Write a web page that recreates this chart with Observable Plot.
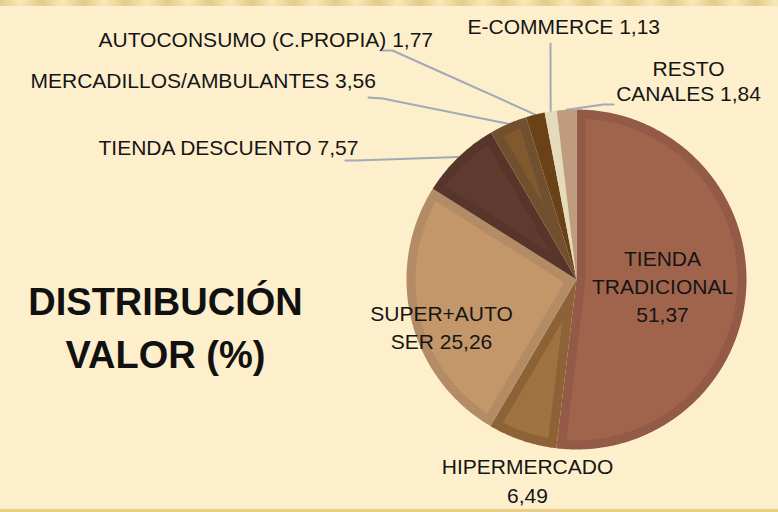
<!DOCTYPE html>
<html><head><meta charset="utf-8">
<script src="https://cdn.jsdelivr.net/npm/d3@7"></script>
<script src="https://cdn.jsdelivr.net/npm/@observablehq/plot@0.6"></script>
<style>
html,body{margin:0;padding:0;background:#FDEFCB;}
#wrap{position:relative;width:778px;height:512px;overflow:hidden;background:#FDEFCB;}
#top{position:absolute;left:0;top:0;width:778px;height:6px;background:repeating-linear-gradient(90deg,#E4CC88 0px,#F7E8B8 20px,#E4CC88 42px);}
#bot{position:absolute;left:0;bottom:0;width:778px;height:3px;background:#E9CE86;}
#chart{position:absolute;left:0;top:0;}
</style></head><body><div id="wrap"><div id="top"></div><div id="bot"></div><div id="chart"></div></div>
<script>
// ---- data ----
const categories = ["TIENDA TRADICIONAL","HIPERMERCADO","SUPER+AUTOSER","TIENDA DESCUENTO","MERCADILLOS/AMBULANTES","AUTOCONSUMO (C.PROPIA)","E-COMMERCE","RESTO CANALES"];
const values = [51.37, 6.49, 25.26, 7.57, 3.56, 1.77, 1.13, 1.84];
const displayNames = ["TIENDA\nTRADICIONAL","HIPERMERCADO","SUPER+AUTO\nSER","TIENDA DESCUENTO","MERCADILLOS/AMBULANTES","AUTOCONSUMO (C.PROPIA)","E-COMMERCE","RESTO\nCANALES"];
const titleLines = ["DISTRIBUCIÓN", "VALOR (%)"];

// ---- styles ----
const fills   = ["#A0644D","#A07241","#C4976B","#5F3B2F","#82582F","#6B4218","#E5DAB9","#BF9B7F"];
const borders = ["#935A48","#8C6236","#B38B65","#57352A","#715030","#6B4218","#E5DAB9","#BF9B7F"];
const FONT = "'Liberation Sans', Arial, sans-serif";

// ---- layout ----
const W = 778, H = 512;
const cx = 576, cy = 279, R = 170, D = 9;
const labelLayout = [
  {x: 662, y: 321, anchor: "middle", sep: "\n", lh: 1.31},
  {x: 527, y: 502, anchor: "middle", sep: "\n", lh: 1.38},
  {x: 441, y: 348, anchor: "middle", sep: " ",  lh: 1.33},
  {x: 98,  y: 154, anchor: "start",  sep: " ",  lh: 1.3},
  {x: 30,  y: 87,  anchor: "start",  sep: " ",  lh: 1.3},
  {x: 98,  y: 46,  anchor: "start",  sep: " ",  lh: 1.3},
  {x: 467, y: 33,  anchor: "start",  sep: " ",  lh: 1.3},
  {x: 688, y: 100, anchor: "middle", sep: " ",  lh: 1.15}
];
const leaderLayout = {3: [[355,160],[345,160]], 4: [[382,98],[368,97]], 5: [[392,50],[381,50]], 6: [[550,43]], 7: [[603,104],[613,104]]};

const fmt = v => v.toFixed(2).replace(".", ",");
const pie = d3.pie().sort(null).value(d => d)(values);
const pt = (a, r) => [cx + r * Math.sin(a), cy - r * Math.cos(a)];

const poly = [];
pie.forEach((p, i) => {
  const a0 = p.startAngle, a1 = p.endAngle;
  // outer (border colour)
  const n = Math.max(4, Math.ceil((a1 - a0) / 0.01));
  const outer = [[cx, cy]];
  for (let k = 0; k <= n; k++) outer.push(pt(a0 + (a1 - a0) * k / n, R));
  outer.forEach(([x, y]) => poly.push({key: "o" + i, x, y, fill: borders[i]}));
  // inner (main colour)
  if (borders[i] !== fills[i]) {
    const h = (a1 - a0) / 2, m = (a0 + a1) / 2;
    const rho = R - D;
    const da = Math.asin(D / rho);
    const apex = pt(m, D / Math.sin(h));
    const b0 = a0 + da, b1 = a1 - da;
    const inner = [apex];
    const nn = Math.max(4, Math.ceil((b1 - b0) / 0.01));
    for (let k = 0; k <= nn; k++) inner.push(pt(b0 + (b1 - b0) * k / nn, rho));
    inner.forEach(([x, y]) => poly.push({key: "i" + i, x, y, fill: fills[i]}));
  }
});

const leaders = [];
Object.entries(leaderLayout).forEach(([i, pts]) => {
  const p = pie[+i];
  const start = pt((p.startAngle + p.endAngle) / 2, R);
  [start, ...pts].forEach(([x, y]) => leaders.push({key: i, x, y}));
});

const labelMarks = pie.map((p, i) => {
  const L = labelLayout[i];
  return Plot.text([{x: L.x, y: L.y, t: displayNames[i] + L.sep + fmt(values[i])}], {
    x: "x", y: "y", text: "t", textAnchor: L.anchor, lineAnchor: "bottom", lineHeight: L.lh,
    fontSize: 21, fill: "#151515", fontFamily: FONT
  });
});

const chart = Plot.plot({
  width: W, height: H, margin: 0,
  style: {background: "transparent", fontFamily: FONT},
  x: {type: "linear", domain: [0, W], range: [0, W], axis: null},
  y: {type: "linear", domain: [0, H], range: [0, H], axis: null},
  color: {type: "identity"},
  marks: [
    Plot.line(leaders, {x: "x", y: "y", z: "key", stroke: "#A2A9B7", strokeWidth: 2, curve: "linear"}),
    Plot.line(poly, {x: "x", y: "y", z: "key", fill: "fill", stroke: "none", curve: "linear"}),
    ...labelMarks,
    Plot.text([{x: 165, y: 367, t: titleLines.join("\n")}], {
      x: "x", y: "y", text: "t", textAnchor: "middle", lineAnchor: "bottom", lineHeight: 1.37,
      fontSize: 38, fontWeight: "bold", fill: "#111", fontFamily: FONT
    })
  ]
});
document.getElementById("chart").appendChild(chart);
</script></body></html>
